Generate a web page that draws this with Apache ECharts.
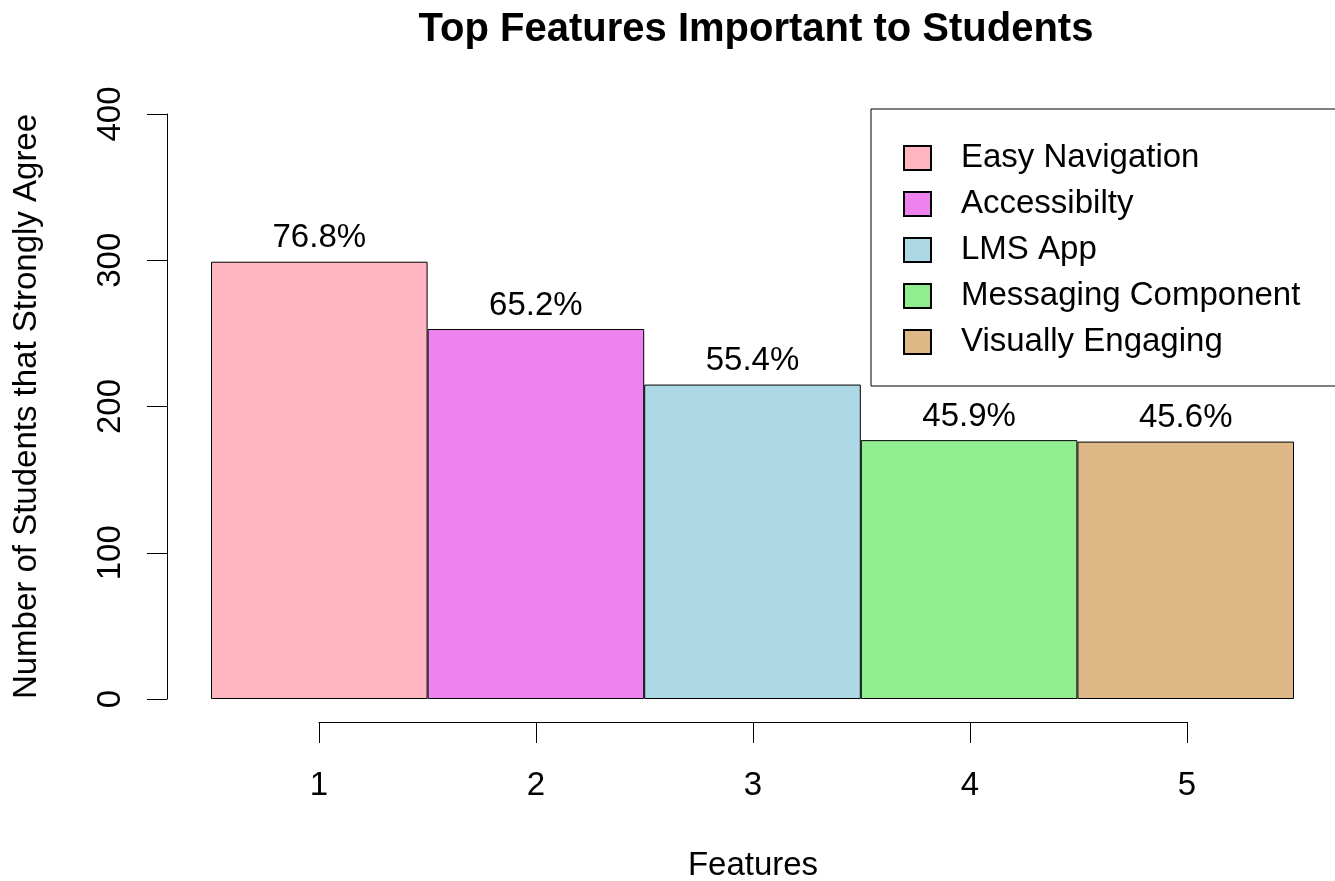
<!DOCTYPE html>
<html>
<head>
<meta charset="utf-8">
<script src="https://cdn.jsdelivr.net/npm/echarts@6/dist/echarts.min.js"></script>
<style>
  html, body { margin: 0; padding: 0; background: #fff; }
  #chart { width: 1335px; height: 881px; }
</style>
</head>
<body>
<div id="chart"></div>
<script>
// data
const features = ['Easy Navigation', 'Accessibilty', 'LMS App', 'Messaging Component', 'Visually Engaging'];
const positions = ['1', '2', '3', '4', '5'];
const students = [299, 253, 215, 177, 176];
const percentLabels = ['76.8%', '65.2%', '55.4%', '45.9%', '45.6%'];
const yTicks = [0, 100, 200, 300, 400];

// R named colours: lightpink, violet, lightblue, lightgreen, burlywood
const palette = ['#FFB6C1', '#EE82EE', '#ADD8E6', '#90EE90', '#DEB887'];
const font = 'Liberation Sans, Arial, sans-serif';

const chart = echarts.init(document.getElementById('chart'));

// one series per feature so every bar gets its own legend entry
const series = features.map((name, i) => ({
    name: name,
    type: 'bar',
    xAxisIndex: 0,
    yAxisIndex: 0,
    barWidth: '100%',
    barGap: '-100%',
    data: positions.map((p, j) => (j === i ? students[i] : '-')),
    itemStyle: {
        color: palette[i],
        borderColor: '#000',
        borderWidth: 1
    },
    label: {
        show: true,
        position: 'top',
        distance: 7,
        formatter: () => percentLabels[i],
        color: '#000',
        fontSize: 33,
        fontFamily: font
    },
    emphasis: { disabled: true },
    animation: false
}));

const option = {
    animation: false,
    textStyle: { fontFamily: font, color: '#000' },
    title: {
        text: 'Top Features Important to Students',
        left: 751,
        top: 5,
        textAlign: 'center',
        textStyle: { fontSize: 40, fontWeight: 'bold', color: '#000', fontFamily: font }
    },
    legend: {
        orient: 'vertical',
        left: 871,
        top: 109,
        padding: [31, 40, 26, 32],
        itemGap: 10,
        itemWidth: 27,
        itemHeight: 24,
        icon: 'rect',
        borderColor: '#000',
        borderWidth: 1,
        backgroundColor: '#fff',
        data: features,
        textStyle: { fontSize: 33, fontFamily: font, color: '#000', lineHeight: 36, padding: [0, 0, 0, 25] }
    },
    grid: [
        // bars
        { left: 211, right: 41, top: 114, bottom: 182, outerBoundsMode: 'none', containLabel: false },
        // separate x axis running from bar centre 1 to bar centre 5
        { left: 319, right: 148, top: 114, bottom: 182, outerBoundsMode: 'none', containLabel: false }
    ],
    xAxis: [
        {
            type: 'category',
            gridIndex: 0,
            data: positions,
            show: false
        },
        {
            type: 'value',
            gridIndex: 1,
            min: 1,
            max: 5,
            interval: 1,
            offset: 23,
            name: 'Features',
            nameLocation: 'middle',
            nameGap: 127,
            nameTextStyle: { fontSize: 33, fontFamily: font, color: '#000' },
            axisLine: { show: true, onZero: false, lineStyle: { color: '#000', width: 1 } },
            axisTick: { show: true, inside: false, length: 21, lineStyle: { color: '#000' } },
            axisLabel: { fontSize: 33, fontFamily: font, color: '#000', margin: 47 },
            splitLine: { show: false }
        }
    ],
    yAxis: [
        {
            type: 'value',
            gridIndex: 0,
            min: 0,
            max: 400,
            interval: 100,
            offset: 44,
            name: 'Number of Students that Strongly Agree',
            nameLocation: 'middle',
            nameRotate: 90,
            nameGap: 124,
            nameTextStyle: { fontSize: 33, fontFamily: font, color: '#000' },
            axisLine: { show: true, lineStyle: { color: '#000', width: 1 } },
            axisTick: { show: true, inside: false, length: 20, lineStyle: { color: '#000' } },
            axisLabel: {
                fontSize: 33,
                fontFamily: font,
                color: '#000',
                rotate: 90,
                margin: 40,
                customValues: yTicks
            },
            splitLine: { show: false }
        },
        {
            type: 'value',
            gridIndex: 1,
            min: 0,
            max: 400,
            show: false
        }
    ],
    series: series
};

chart.setOption(option);
</script>
</body>
</html>
